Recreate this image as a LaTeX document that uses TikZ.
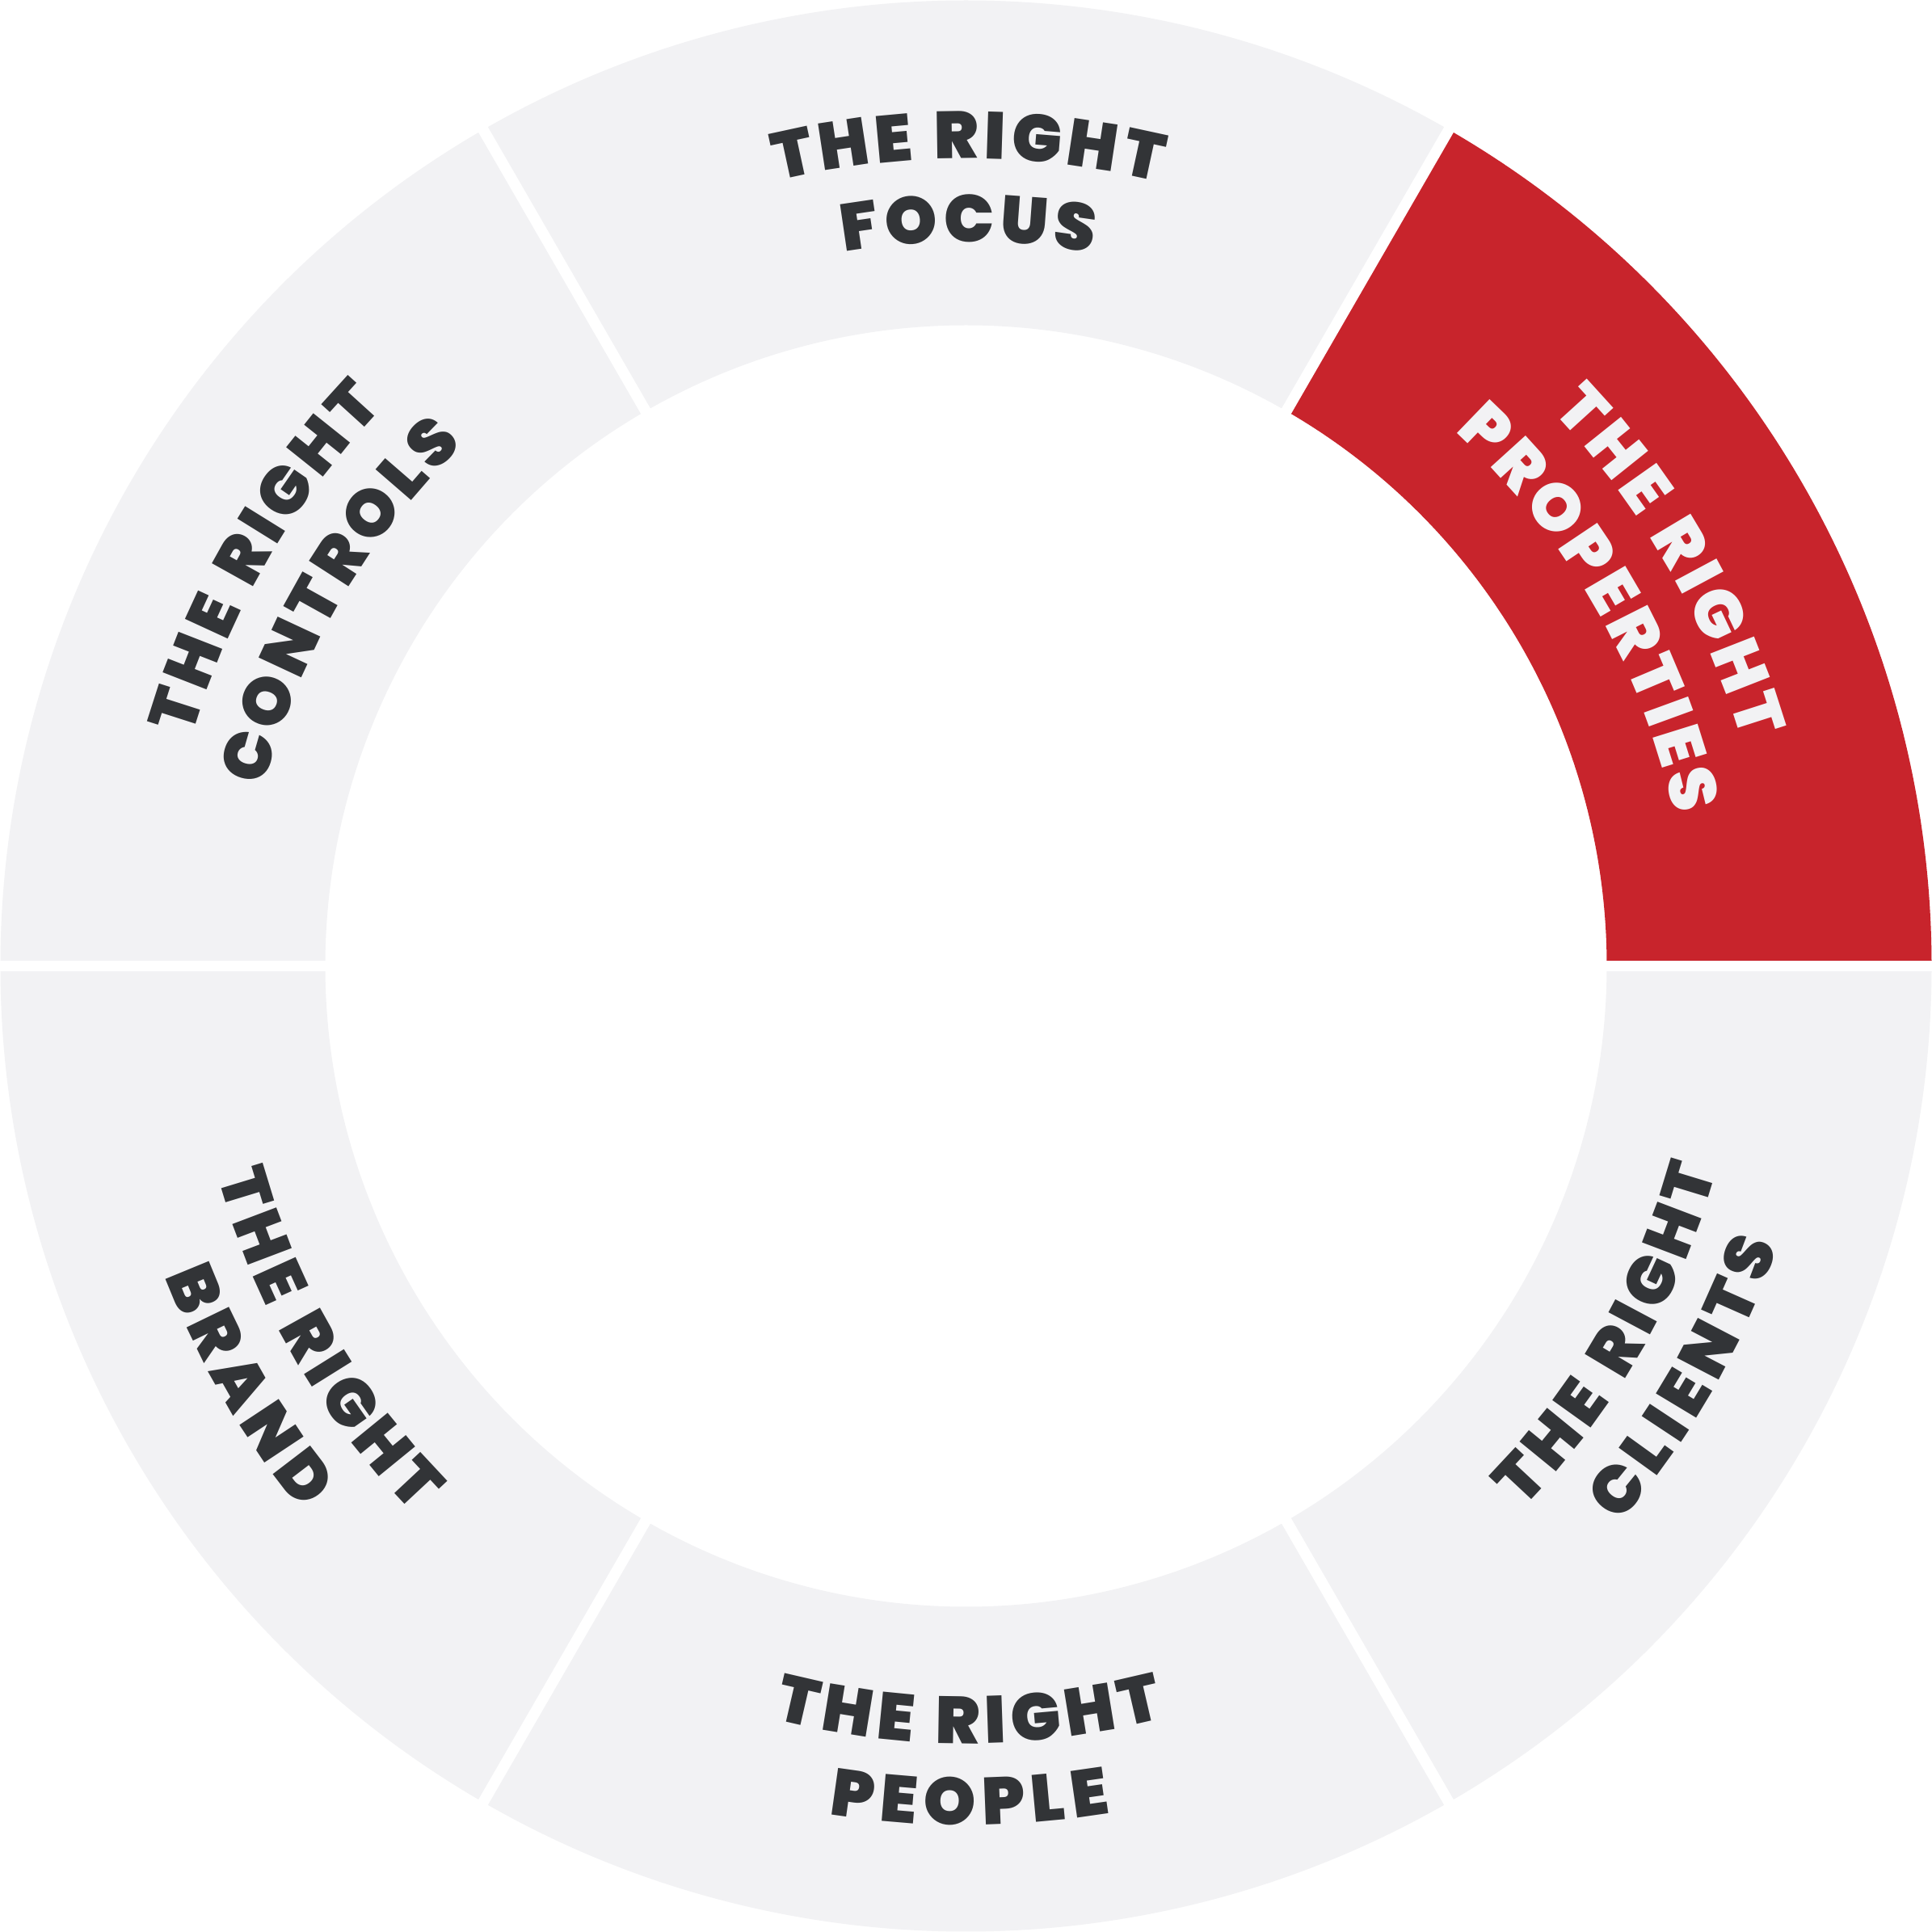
\documentclass[tikz,border=0pt]{standalone}
\usepackage{fontspec}
\usetikzlibrary{decorations.text}
\IfFontExistsTF{Poppins Black}
  {\newfontfamily\hdfam{Poppins Black}\newcommand\hdfont{\hdfam}}
  {\IfFontExistsTF{Poppins ExtraBold}
    {\newfontfamily\hdfam{Poppins ExtraBold}\newcommand\hdfont{\hdfam}}
    {\newfontfamily\hdfam{Poppins}\newcommand\hdfont{\hdfam\bfseries}}}
\definecolor{seggray}{HTML}{F2F2F4}
\definecolor{segred}{HTML}{C8242C}
\definecolor{txtdark}{HTML}{323437}
\definecolor{txtlight}{HTML}{F2F2F4}
\tikzset{
  gapline/.style={white, line width=0.135cm},
}
% #1 centre angle, #2 radius (cm), #3 text, #4 colour, #5 tracking
\newcommand\uptext[5]{%
  \path[decorate, decoration={text along path, text align=center,
     text={|\hdfont\fontsize{23.4}{28}\selectfont\color{#4}\kern#5|#3}}]
     ({#1+60}:#2cm) arc[start angle={#1+60}, end angle={#1-60}, radius=#2cm];}
\newcommand\lowtext[5]{%
  \path[decorate, decoration={text along path, text align=center,
     text={|\hdfont\fontsize{23.4}{28}\selectfont\color{#4}\kern#5|#3}}]
     ({#1-60}:#2cm) arc[start angle={#1-60}, end angle={#1+60}, radius=#2cm];}
\begin{document}
\begin{tikzpicture}
\useasboundingbox (-11.955,-11.955) rectangle (11.955,11.955);
\fill[white] (-11.955,-11.955) rectangle (11.955,11.955);
\foreach \a/\c in {0/segred,60/seggray,120/seggray,180/seggray,240/seggray,300/seggray}{
  \fill[\c] (\a:7.93) arc[start angle=\a, end angle=\a+60, radius=7.93]
    -- ({\a+60}:11.95) arc[start angle=\a+60, end angle=\a, radius=11.95] -- cycle;
}
\foreach \a in {0,60,...,300}{
  \draw[gapline] (\a:7.8) -- (\a:12.1);
}
\uptext{90}{9.99}{THE RIGHT}{txtdark}{1.7pt}
\uptext{90}{8.96}{FOCUS}{txtdark}{1.7pt}
\uptext{30}{9.99}{THE RIGHT}{txtlight}{1.7pt}
\uptext{30}{8.96}{PROPERTIES}{txtlight}{1.7pt}
\uptext{150}{9.99}{THE RIGHT}{txtdark}{1.7pt}
\uptext{150}{8.96}{CONTROLS}{txtdark}{1.7pt}
\lowtext{270}{9.62}{THE RIGHT}{txtdark}{2.1pt}
\lowtext{270}{10.63}{PEOPLE}{txtdark}{2.6pt}
\lowtext{330}{9.62}{THE RIGHT}{txtdark}{2.1pt}
\lowtext{330}{10.63}{CLIENTS}{txtdark}{2.6pt}
\lowtext{210}{9.62}{THE RIGHT}{txtdark}{2.1pt}
\lowtext{210}{10.63}{BRAND}{txtdark}{2.6pt}
\end{tikzpicture}
\end{document}
